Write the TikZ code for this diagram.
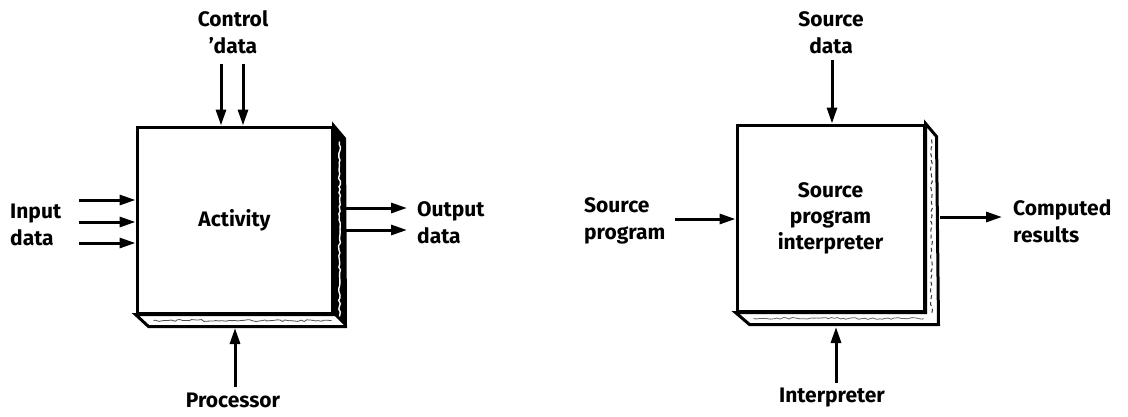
\documentclass[tikz,border=0pt]{standalone}
\usepackage{fontspec}
\setmainfont{Fira Sans}
\usetikzlibrary{arrows.meta,decorations.pathmorphing}
\begin{document}
\begin{tikzpicture}[x=1pt,y=-1pt,
  lbl/.style={font=\fontsize{21}{27}\selectfont\bfseries, inner sep=0pt, align=center},
  lbll/.style={lbl, align=left, anchor=west},
  front/.style={draw, line width=3pt, minimum width=195pt, minimum height=186pt,
    inner sep=0pt, font=\fontsize{21}{26}\selectfont\bfseries, align=center},
  face/.style={draw, line width=3pt, line join=miter, fill=white},
  squiggle/.style={line width=1.4pt, decorate,
    decoration={random steps, segment length=3pt, amplitude=1pt}},
  arr/.style={line width=3pt, -{Triangle[length=16pt,width=10pt]}},
]
\useasboundingbox (0,0) rectangle (1128,416);

% ---------- activity block ----------
\node[front] (act) at (234.5,220) {Activity};
\path[face] (act.north east) -- ++(11,13) -- ([shift={(12,12)}]act.south east)
  -- ([shift={(13,12)}]act.south west) -- (act.south west) -- (act.south east) -- cycle;
\fill (act.north east) -- ++(11,13) -- ([shift={(12,12)}]act.south east)
  -- (act.south east) -- cycle;
\draw[white, squiggle] ([shift={(6,16)}]act.north east) -- ([shift={(6,2)}]act.south east);
\draw[black!70, squiggle, line width=0.8pt] ([shift={(18,6)}]act.south west) -- ([shift={(-2,6)}]act.south east);
\node[front] (actf) at (act) {};

\node[lbl] (ctl) at (233,32) {Control\\\textquoteright data};
\coordinate (c1) at (221,64);
\coordinate (c2) at (243,64);
\draw[arr] (c1) -- (c1 |- act.north);
\draw[arr] (c2) -- (c2 |- act.north);

\node[lbll] (inp) at (10,225) {Input\\data};
\coordinate (i1) at (79,200);
\coordinate (i2) at (79,222);
\coordinate (i3) at (79,243);
\draw[arr] (i1) -- (i1 -| act.west);
\draw[arr] (i2) -- (i2 -| act.west);
\draw[arr] (i3) -- (i3 -| act.west);

\node[lbll] (outp) at (417,223) {Output\\data};
\coordinate (o1) at (345,208);
\coordinate (o2) at (345,230);
\coordinate (o1e) at (407,208);
\coordinate (o2e) at (407,230);
\draw[arr] (o1) -- (o1e);
\draw[arr] (o2) -- (o2e);

\node[lbl] (proc) at (233,400) {Processor};
\coordinate (p1) at (235,387);
\coordinate (p1e) at (235,328);
\draw[arr] (p1) -- (p1e);

% ---------- interpreter block ----------
\node[front, minimum width=187pt] (intp) at (830.5,218) {Source\\program\\interpreter};
\path[face] (intp.north east) -- ++(11,13) -- ([shift={(13,12)}]intp.south east)
  -- ([shift={(14,12)}]intp.south west) -- (intp.south west) -- (intp.south east) -- cycle;
\draw[black!80, squiggle, line width=1pt, dash pattern=on 4pt off 3pt]
  ([shift={(6,16)}]intp.north east) -- ([shift={(6,2)}]intp.south east);
\draw[black!60, squiggle, line width=0.8pt] ([shift={(18,6)}]intp.south west) -- ([shift={(-2,6)}]intp.south east);
\node[front, minimum width=187pt] (intpf) at (intp) {};

\node[lbl] (sdat) at (831,33) {Source\\data};
\coordinate (s1) at (832,60);
\draw[arr] (s1) -- (s1 |- intp.north);

\node[lbll] (sprog) at (584,221) {Source\\program};
\coordinate (s2) at (675,219);
\draw[arr] (s2) -- (s2 -| intp.west);

\node[lbll] (cres) at (1013,221) {Computed\\results};
\coordinate (r1) at (940,217);
\coordinate (r1e) at (1002,217);
\draw[arr] (r1) -- (r1e);

\node[lbl] (interp) at (832,398) {Interpreter};
\coordinate (p2) at (836,383);
\coordinate (p2e) at (836,327);
\draw[arr] (p2) -- (p2e);
\end{tikzpicture}
\end{document}
